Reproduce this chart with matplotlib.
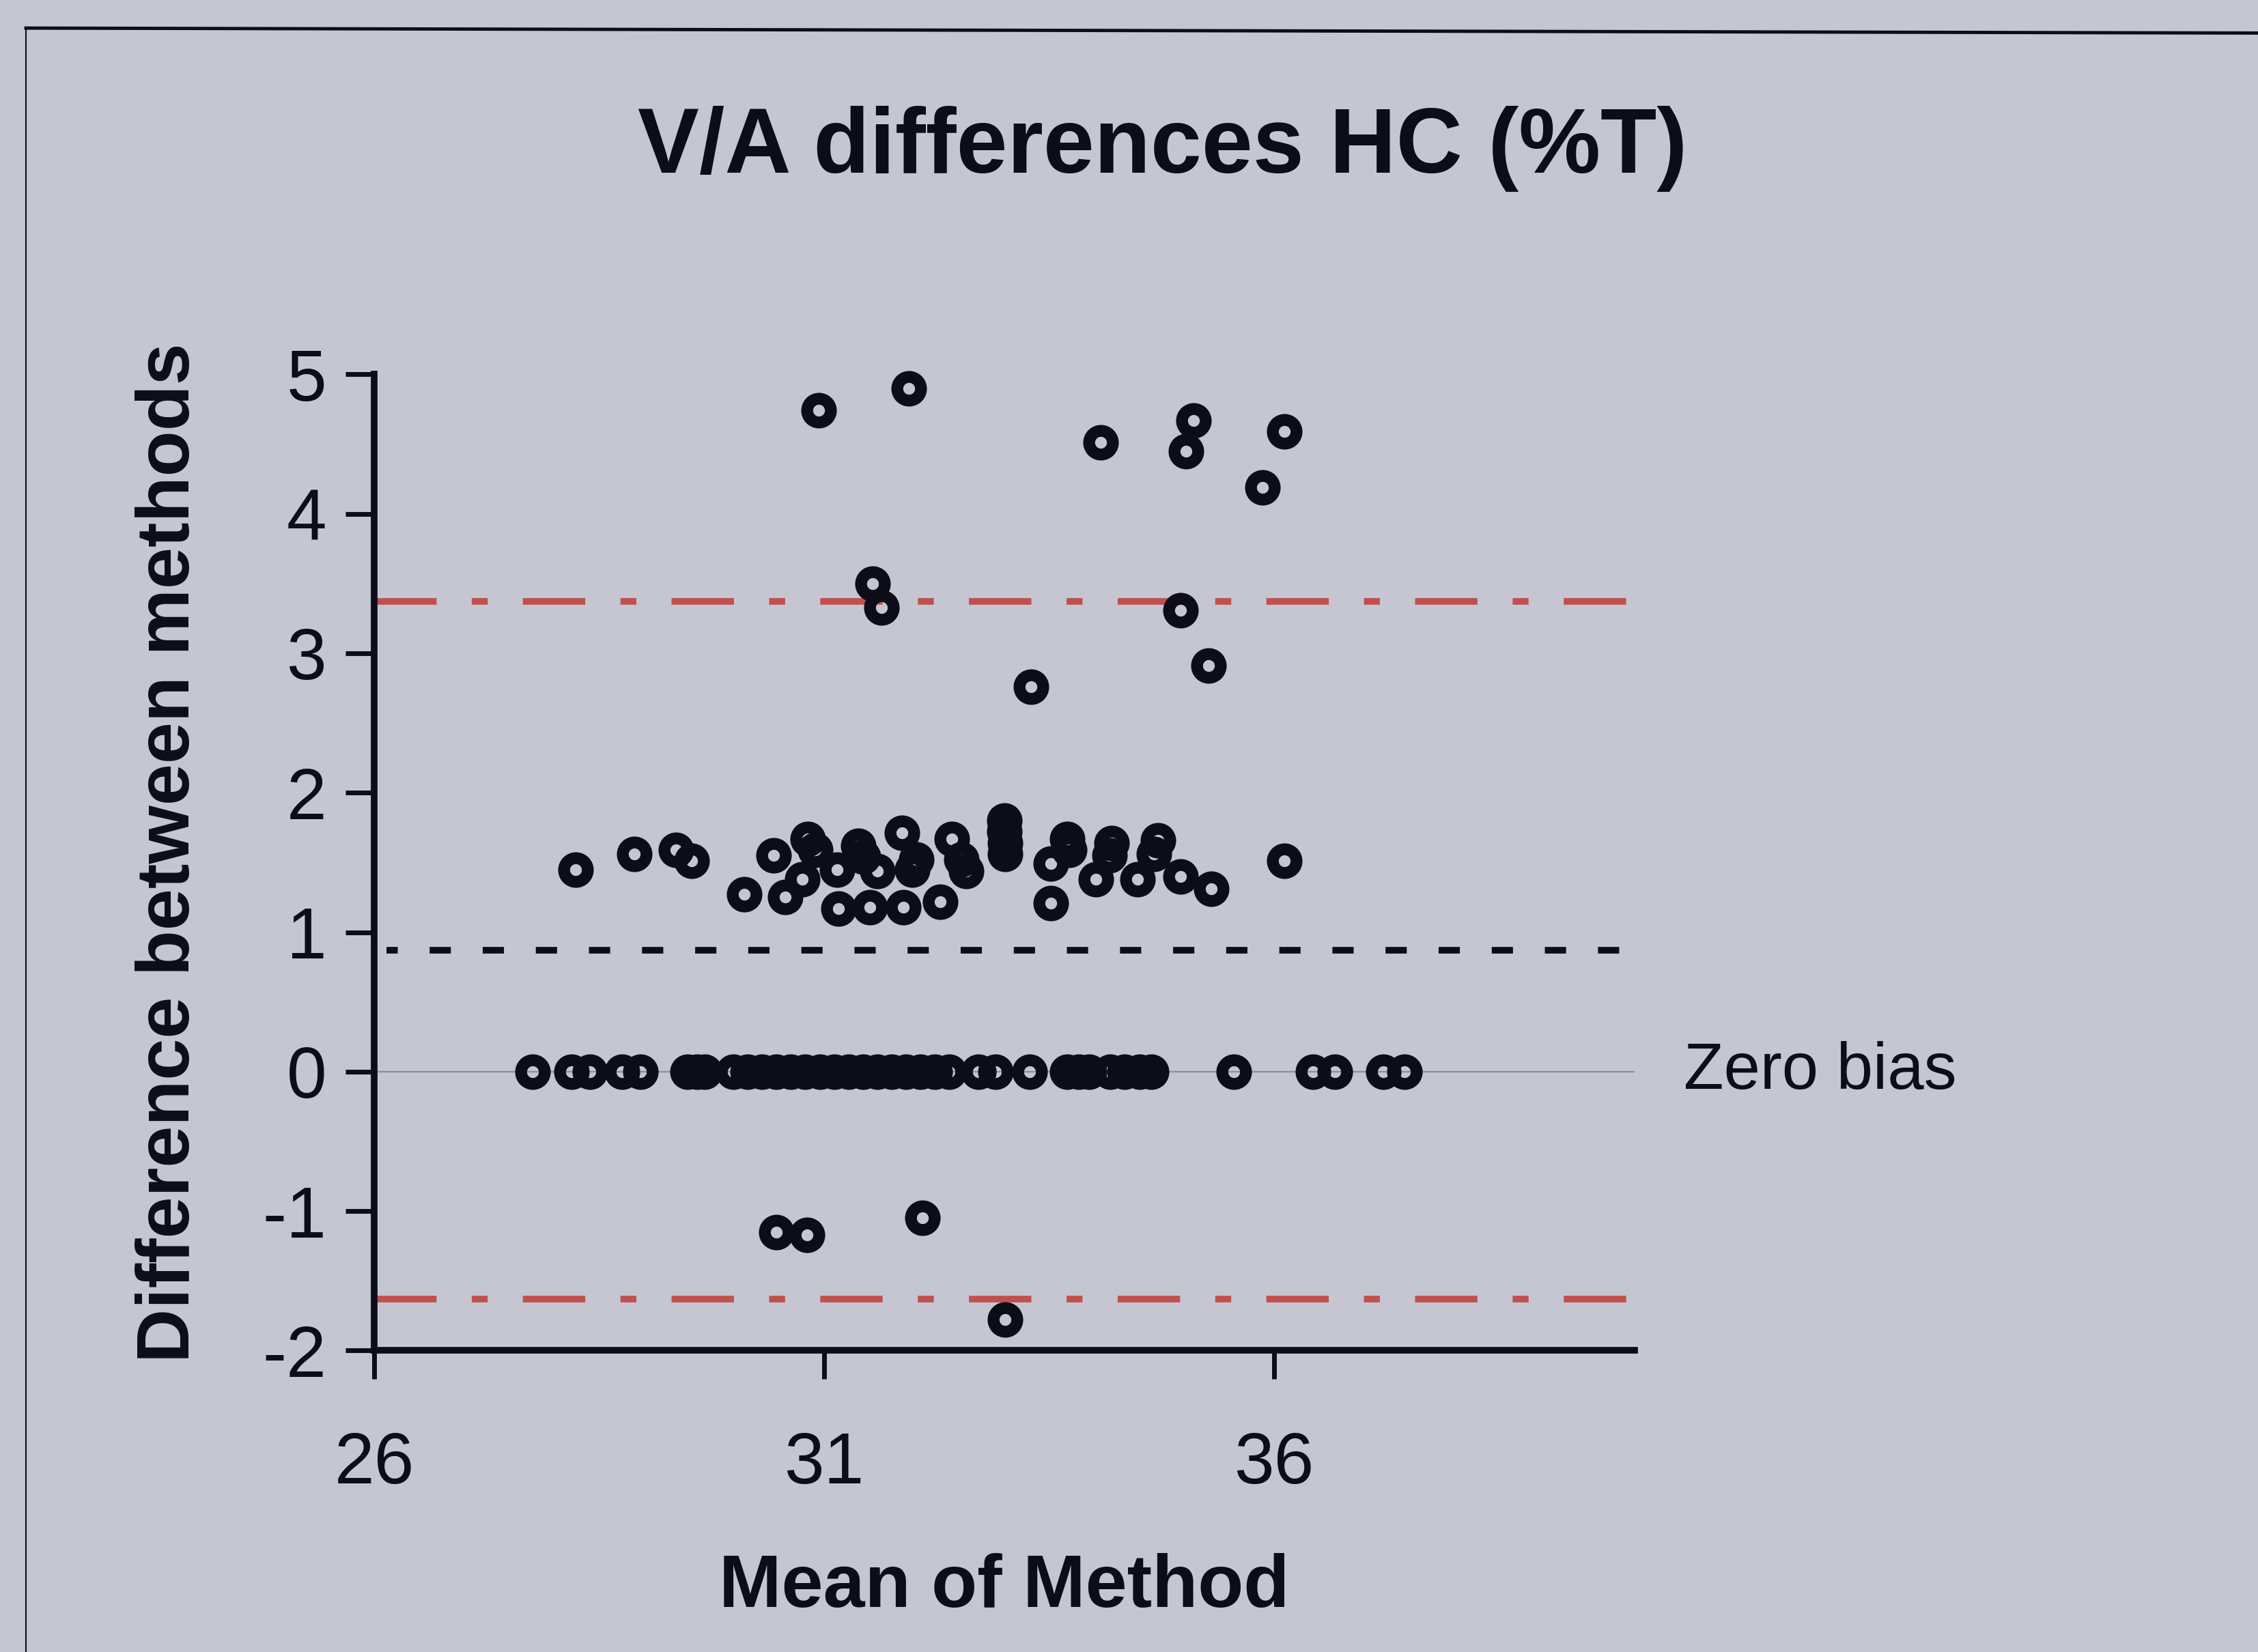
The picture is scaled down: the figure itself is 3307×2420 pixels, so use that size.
import matplotlib
matplotlib.use("Agg")
import matplotlib.pyplot as plt
from matplotlib.lines import Line2D
import numpy as np

plt.rcParams['font.family'] = ['Liberation Sans', 'DejaVu Sans']
plt.rcParams['axes.unicode_minus'] = False

# Bland-Altman data: mean of the two methods vs. their difference
zero_mean = [27.76, 28.19, 28.40, 28.75, 28.96, 29.48, 29.59, 29.67,
             29.99, 30.15, 30.31, 30.47, 30.63, 30.79, 30.95, 31.11, 31.27, 31.43,
             31.59, 31.75, 31.91, 32.07, 32.23, 32.39,
             32.71, 32.90, 33.28, 33.70, 33.83, 33.94, 34.18, 34.34, 34.50, 34.63,
             35.55, 36.43, 36.67, 37.21, 37.45]
zero_diff = [0.0] * len(zero_mean)

cluster_mean = [28.24, 28.89, 29.35, 29.53, 30.11, 30.44, 30.57, 30.76, 30.82, 30.90,
                31.14, 31.16, 31.38, 31.43, 31.51, 31.59, 31.86, 31.88, 31.98, 32.02,
                32.29, 32.42, 32.52, 32.58, 33.00, 33.00, 33.01, 33.01, 33.52, 33.52,
                33.70, 33.72, 34.02, 34.17, 34.19, 34.48, 34.66, 34.71, 34.96, 35.30,
                36.11]
cluster_diff = [1.45, 1.56, 1.59, 1.51, 1.27, 1.55, 1.25, 1.38, 1.67, 1.59,
                1.45, 1.17, 1.62, 1.54, 1.18, 1.44, 1.71, 1.18, 1.45, 1.52,
                1.22, 1.67, 1.52, 1.44, 1.80, 1.72, 1.64, 1.56, 1.49, 1.21,
                1.67, 1.59, 1.38, 1.55, 1.64, 1.38, 1.56, 1.66, 1.40, 1.31,
                1.51]

high_mean = [30.94, 31.94, 34.07, 35.10, 35.02, 36.11, 35.87, 31.54, 31.64, 34.96,
             35.27, 33.30]
high_diff = [4.74, 4.90, 4.51, 4.67, 4.45, 4.59, 4.19, 3.50, 3.33, 3.31,
             2.91, 2.76]

low_mean = [30.47, 30.81, 32.09, 33.01]
low_diff = [-1.15, -1.17, -1.05, -1.78]

# Reference lines
mean_bias = 0.87
upper_loa = 3.37
lower_loa = -1.63

x_ticks = [26, 31, 36]
y_ticks = [-2, -1, 0, 1, 2, 3, 4, 5]

bg = '#c5c6d2'
ink = '#0d0d1a'

fig = plt.figure(figsize=(33.07, 24.2), dpi=100, facecolor=bg)
ax = fig.add_axes([0.1657, 0.1825, 0.5581, 0.5909])
ax.set_facecolor(bg)

ax.set_xlim(26, 40)
ax.set_ylim(-2, 5)

# horizontal reference lines
ax.axhline(0, color='#8e8e98', lw=1.6, zorder=1)
ax.axhline(mean_bias, color=ink, lw=7, linestyle=(1.5, (3.2, 4.8)), zorder=1,
           xmin=0.01, xmax=0.99)
for lvl in (upper_loa, lower_loa):
    ax.axhline(lvl, color='#c0504d', lw=7, linestyle=(0, (9.4, 5.3, 2.4, 5.3)), zorder=1)

all_mean = np.concatenate([zero_mean, cluster_mean, high_mean, low_mean])
all_diff = np.concatenate([zero_diff, cluster_diff, high_diff, low_diff])
ax.plot(all_mean, all_diff, linestyle='none', marker='o', markersize=25,
        markerfacecolor='none', markeredgecolor=ink, markeredgewidth=12.5, zorder=3,
        clip_on=False)

for s in ('top', 'right'):
    ax.spines[s].set_visible(False)
for s in ('left', 'bottom'):
    ax.spines[s].set_linewidth(7)
    ax.spines[s].set_color(ink)

ax.set_xticks(x_ticks)
ax.set_yticks(y_ticks)
ax.tick_params(axis='both', direction='out', length=30, width=5, color=ink,
               labelcolor=ink, labelsize=76)
ax.tick_params(axis='y', pad=20)
ax.tick_params(axis='x', pad=55)

ax.set_xlabel('Mean of Method', fontsize=79, fontweight='bold', color=ink)
ax.xaxis.set_label_coords(0.5, -0.243)
ax.xaxis.label.set_va('center')
ax.set_ylabel('Difference between methods', fontsize=79, fontweight='bold', color=ink)
ax.yaxis.set_label_coords(-0.162, 0.51)
ax.yaxis.label.set_va('center')

ax.annotate('Zero bias', xy=(1, 0), xycoords=ax.get_yaxis_transform(),
            xytext=(52, 0), textcoords='offset points', va='center', ha='left',
            fontsize=69, color=ink)

fig.text(0.515, 0.910, 'V/A differences HC (%T)', ha='center', va='center',
         fontsize=97, fontweight='bold', color=ink)

# outer chart frame
fig.add_artist(Line2D([0.0115, 1.0], [0.983, 0.980], transform=fig.transFigure,
                      color=ink, lw=3.5))
fig.add_artist(Line2D([0.0115, 0.0115], [0.0, 0.983], transform=fig.transFigure,
                      color=ink, lw=1.5))

fig.savefig('out.png', dpi=100, facecolor=bg)
